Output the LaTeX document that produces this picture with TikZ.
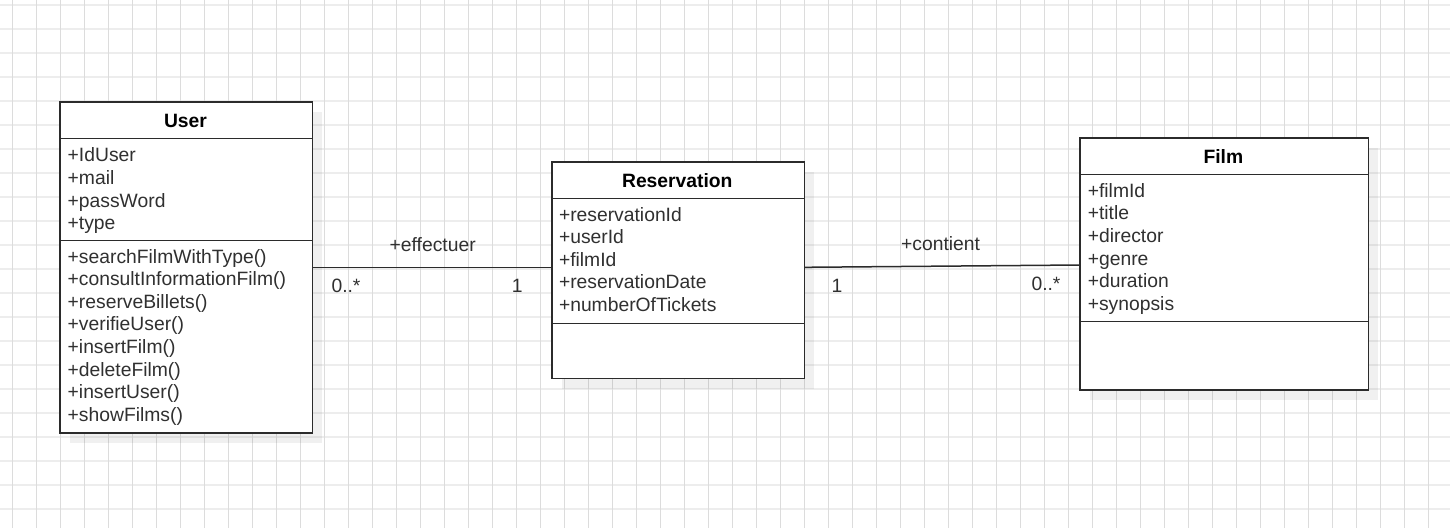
\documentclass[tikz,border=0pt]{standalone}
\usepackage{fontspec}
\setmainfont{Liberation Sans}
\usetikzlibrary{shadows}
\definecolor{ink}{HTML}{2B2B2B}
\definecolor{txt}{HTML}{303030}
\definecolor{gridv}{HTML}{DCDCDC}
\definecolor{gridh}{HTML}{EDEDED}
\newcommand\umlfont{\fontsize{19.3}{22.7}\selectfont}
\begin{document}
\begin{tikzpicture}[x=1pt,y=-1pt,
  umlbox/.style={draw=ink, line width=1.5pt, fill=white, inner sep=0pt, anchor=north west,
    drop shadow={shadow xshift=10pt, shadow yshift=-10pt, fill=black, opacity=0.06}},
  divider/.style={draw=ink, line width=1.5pt},
  assoc/.style={draw=ink, line width=1.5pt},
  attr/.style={anchor=base west, inner sep=0pt, font=\umlfont, text=txt},
  title/.style={anchor=base, inner sep=0pt, font=\umlfont\bfseries, text=black},
  lbl/.style={anchor=base, inner sep=0pt, font=\umlfont, text=txt}]
\fill[white] (0,0) rectangle (1450,528);
\useasboundingbox (0,0) rectangle (1450,528);
% grid
\foreach \k in {0,...,21} \draw[gridh, line width=1.5pt] (0,{5+24*\k}) -- (1450,{5+24*\k});
\foreach \k in {0,...,59} \draw[gridv, line width=1pt] ({12+24*\k},0) -- ({12+24*\k},528);
% boxes
\node[umlbox, minimum width=252.4pt, minimum height=331pt] (user) at (59.3,101) {};
\node[umlbox, minimum width=252.7pt, minimum height=216.5pt] (res) at (551,161.3) {};
\node[umlbox, minimum width=288.1pt, minimum height=252pt] (film) at (1079.4,137.3) {};
% dividers
\draw[divider] (user.west |- 0,138.3) -- (user.east |- 0,138.3);
\draw[divider] (user.west |- 0,240.7) -- (user.east |- 0,240.7);
\draw[divider] (res.west |- 0,198.3) -- (res.east |- 0,198.3);
\draw[divider] (res.west |- 0,323.3) -- (res.east |- 0,323.3);
\draw[divider] (film.west |- 0,174.3) -- (film.east |- 0,174.3);
\draw[divider] (film.west |- 0,321.7) -- (film.east |- 0,321.7);
% titles
\node[title] (usert) at (185.5,127) {User};
\node[title] (rest) at (677.3,187.3) {Reservation};
\node[title] (filmt) at (1223.4,163.3) {Film};
% user attributes and methods
\foreach \t [count=\i from 0] in {+IdUser,+mail,+passWord,+type}
  \node[attr] (ua\i) at (67.5,{161.7+22.7*\i}) {\t};
\foreach \t [count=\i from 0] in {+searchFilmWithType(),+consultInformationFilm(),+reserveBillets(),+verifieUser(),+insertFilm(),+deleteFilm(),+insertUser(),+showFilms()}
  \node[attr] (um\i) at (67.5,{263.3+22.55*\i}) {\t};
% reservation attributes
\foreach \t [count=\i from 0] in {+reservationId,+userId,+filmId,+reservationDate,+numberOfTickets}
  \node[attr] (ra\i) at (558.8,{221.3+22.5*\i}) {\t};
% film attributes
\foreach \t [count=\i from 0] in {+filmId,+title,+director,+genre,+duration,+synopsis}
  \node[attr] (fa\i) at (1087.6,{197.3+22.6*\i}) {\t};
% associations
\draw[assoc] (user.east |- 0,267.3) -- (res.west |- 0,267.3);
\draw[assoc] (res.east |- 0,267.3) -- (film.west |- 0,265);
% labels
\node[lbl] (l1) at (432.7,251.7) {+effectuer};
\node[lbl] (m1a) at (346,292.7) {0..*};
\node[lbl] (m1b) at (517.3,292.7) {1};
\node[lbl] (l2) at (940.6,250.7) {+contient};
\node[lbl] (m2a) at (837,292.3) {1};
\node[lbl] (m2b) at (1046,290) {0..*};
\end{tikzpicture}
\end{document}
